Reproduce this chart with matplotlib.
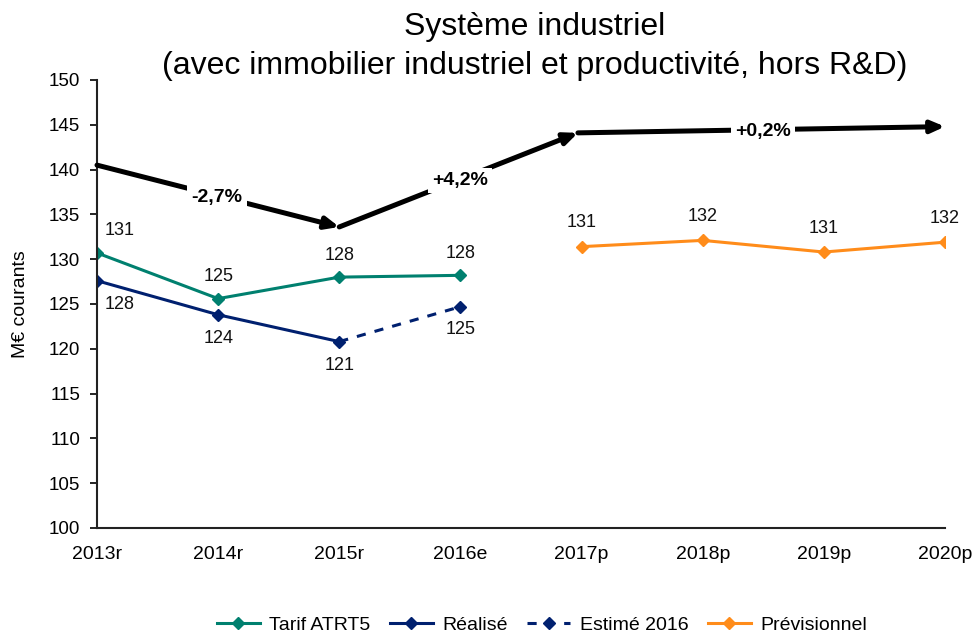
import matplotlib
matplotlib.use("Agg")
import matplotlib.pyplot as plt

plt.rcParams['font.family'] = ['Liberation Sans', 'DejaVu Sans']

categories = ["2013r", "2014r", "2015r", "2016e", "2017p", "2018p", "2019p", "2020p"]
tarif_x = [0, 1, 2, 3]
tarif = [130.7, 125.6, 128.0, 128.2]
tarif_lbl = ["131", "125", "128", "128"]
realise_x = [0, 1, 2]
realise = [127.6, 123.8, 120.8]
realise_lbl = ["128", "124", "121"]
estime_x = [2, 3]
estime = [120.8, 124.7]
estime_lbl = ["125"]
prev_x = [4, 5, 6, 7]
prev = [131.4, 132.1, 130.8, 131.9]
prev_lbl = ["131", "132", "131", "132"]

trend_x = [0, 2, 3.97, 7]
trend_y = [140.5, 133.6, 144.1, 144.8]
trend_lbl = ["-2,7%", "+4,2%", "+0,2%"]

C_TEAL = "#00806f"
C_NAVY = "#00206f"
C_ORANGE = "#ff8c1a"

fig = plt.figure(figsize=(9.73, 6.32), dpi=100)
W, H = 973, 632
ax = fig.add_axes([97 / W, 1 - 528 / H, (945 - 97) / W, (528 - 80) / H])

ax.plot(tarif_x, tarif, color=C_TEAL, lw=2.2, marker="D", ms=6, label="Tarif ATRT5")
ax.plot(realise_x, realise, color=C_NAVY, lw=2.2, marker="D", ms=6, label="Réalisé")
ax.plot(estime_x, estime, color=C_NAVY, lw=2.2, ls=(0, (3, 3)), marker="D", ms=6,
        label="Estimé 2016", markevery=[1])
ax.plot(prev_x, prev, color=C_ORANGE, lw=2.2, marker="D", ms=6, label="Prévisionnel")

fs = 13
def lab(x, y, t, dx, dy):
    ax.annotate(t, (x, y), xytext=(dx, dy), textcoords="offset pixels",
                ha="center", va="center", fontsize=fs, color="#111111")

lab(tarif_x[0], tarif[0], tarif_lbl[0], 23, 22)
for x, y, t in zip(tarif_x[1:], tarif[1:], tarif_lbl[1:]):
    lab(x, y, t, 0, 22)
lab(realise_x[0], realise[0], realise_lbl[0], 23, -24)
for x, y, t in zip(realise_x[1:], realise[1:], realise_lbl[1:]):
    lab(x, y, t, 0, -24)
lab(estime_x[1], estime[1], estime_lbl[0], 0, -23)
for x, y, t in zip(prev_x, prev, prev_lbl):
    lab(x, y, t, 0, 24)

# trend arrows
for i in range(3):
    ax.annotate("", xy=(trend_x[i + 1], trend_y[i + 1]), xytext=(trend_x[i], trend_y[i]),
                arrowprops=dict(arrowstyle="-|>,head_length=0.8,head_width=0.35",
                                lw=3.6, color="black", shrinkA=0, shrinkB=0),
                annotation_clip=False)
lbl_pos = [(0.99, 136.9), (3.0, 138.8), (5.5, 144.3)]
for (x, y), t in zip(lbl_pos, trend_lbl):
    ax.text(x, y, t, ha="center", va="center", fontsize=14, fontweight="bold",
            bbox=dict(facecolor="white", edgecolor="none", pad=3))

ax.set_xlim(0, 7)
ax.set_ylim(100, 150)
ax.set_yticks(range(100, 151, 5))
ax.set_xticks(range(len(categories)))
ax.set_xticklabels(categories)
ax.tick_params(axis="x", length=0, labelsize=14, pad=13)
ax.tick_params(axis="y", length=5, width=1.2, labelsize=13.5, direction="out", pad=7)
for s in ["top", "right"]:
    ax.spines[s].set_visible(False)
for s in ["left", "bottom"]:
    ax.spines[s].set_linewidth(1.5)
    ax.spines[s].set_color("#222222")
ax.set_ylabel("M€ courants", fontsize=14)
ax.yaxis.set_label_coords(-0.08, 0.5)

fig.text(535 / W, 1 - 35 / H, "Système industriel",
         ha="center", va="baseline", fontsize=23)
fig.text(535 / W, 1 - 74 / H, "(avec immobilier industriel et productivité, hors R&D)",
         ha="center", va="baseline", fontsize=23)

fig.legend(loc="center", bbox_to_anchor=(542 / W, 1 - 625 / H), ncol=4, frameon=False,
           fontsize=14, handlelength=2.2, columnspacing=1.0, handletextpad=0.5)

fig.savefig("out.png", dpi=100)
